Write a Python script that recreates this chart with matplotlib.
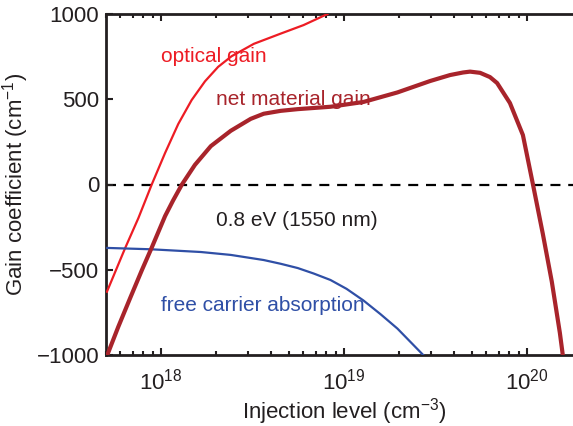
import numpy as np
import matplotlib
matplotlib.use("Agg")
import matplotlib.pyplot as plt
from matplotlib.ticker import LogLocator, NullFormatter

plt.rcParams["font.family"] = ["Liberation Sans", "DejaVu Sans"]
plt.rcParams["mathtext.default"] = "regular"

## Values (log10 of injection level, gain in cm^-1)
logN_optical = [17.704, 17.804, 17.876, 17.949, 18.022, 18.094, 18.167, 18.240, 18.312,
                18.385, 18.507, 18.654, 18.779, 18.910]
gain_optical = [-629, -372, -197, 0, 185, 355, 495, 605, 690,
                752, 825, 885, 935, 1000]

logN_net = [17.706, 17.766, 17.831, 17.896, 17.951, 18.022, 18.065, 18.114, 18.185, 18.272,
            18.381, 18.490, 18.561, 18.654, 18.747, 18.926, 19.106, 19.292, 19.471, 19.580,
            19.651, 19.689, 19.744, 19.798, 19.837, 19.907, 19.978, 20.033, 20.087, 20.136,
            20.180, 20.196]
gain_net = [-1000, -835, -666, -500, -365, -185, -95, 0, 115, 225,
            315, 385, 415, 432, 442, 456, 484, 540, 607, 642,
            657, 662, 655, 630, 595, 478, 290, 0, -290, -570,
            -870, -1000]

logN_fca = [17.706, 17.946, 18.218, 18.381, 18.561, 18.654, 18.747, 18.834, 18.926,
            19.014, 19.106, 19.199, 19.292, 19.433]
alpha_fca = [-372, -380, -396, -413, -443, -465, -490, -522, -560,
             -612, -680, -760, -845, -1000]

xlim = [5e17, 2e20]
ylim = [-1000, 1000]
yticks = [-1000, -500, 0, 500, 1000]

c_opt = "#ED1C24"
c_net = "#A8242B"
c_fca = "#2F4FA6"
c_ink = "#231F20"

fig = plt.figure(figsize=(5.73, 4.26), dpi=100, facecolor="white")
ax = fig.add_axes([106/573., 71/426., 476/573., 341/426.])

ax.axhline(0, c="black", lw=1.6, ls=(0, (4.5, 3.5)), zorder=1)
ax.plot(10**np.array(logN_optical), gain_optical, c=c_opt, lw=1.6, zorder=3,
  solid_joinstyle="round")
ax.plot(10**np.array(logN_fca), alpha_fca, c=c_fca, lw=1.6, zorder=3,
  solid_joinstyle="round")
ax.plot(10**np.array(logN_net), gain_net, c=c_net, lw=3.0, zorder=4,
  solid_joinstyle="round")

ax.set_xscale("log")
ax.set_xlim(xlim)
ax.set_ylim(ylim)
ax.set_yticks(yticks)
ax.xaxis.set_major_locator(LogLocator(base=10, numticks=10))
ax.xaxis.set_minor_locator(LogLocator(base=10, subs=np.arange(2, 10), numticks=10))
ax.xaxis.set_minor_formatter(NullFormatter())

for s in ["left", "top", "bottom", "right"]:
  ax.spines[s].set_linewidth(2.0)
  ax.spines[s].set_color(c_ink)
ax.tick_params(which="both", direction="in", top=True, right=False, width=1.5, color=c_ink,
  labelsize=16, labelcolor=c_ink)
ax.tick_params(which="major", length=5, pad=5)
ax.tick_params(which="minor", length=3)
ax.tick_params(axis="x", which="major", pad=10)

ax.set_xlabel("Injection level (cm$^{-3}$)", fontsize=16, color=c_ink, labelpad=1)
ax.set_ylabel("Gain coefficient (cm$^{-1}$)", fontsize=16, color=c_ink, labelpad=4)

ax.text(1.0e18, 748, "optical gain", color=c_opt, fontsize=15, va="center", ha="left")
ax.text(2.0e18, 496, "net material gain", color=c_net, fontsize=15, va="center", ha="left")
ax.text(2.0e18, -214, "0.8 eV (1550 nm)", color=c_ink, fontsize=15, va="center", ha="left")
ax.text(1.0e18, -707, "free carrier absorption", color=c_fca, fontsize=15, va="center", ha="left")

plt.savefig("out.png", dpi=100, facecolor="white")
